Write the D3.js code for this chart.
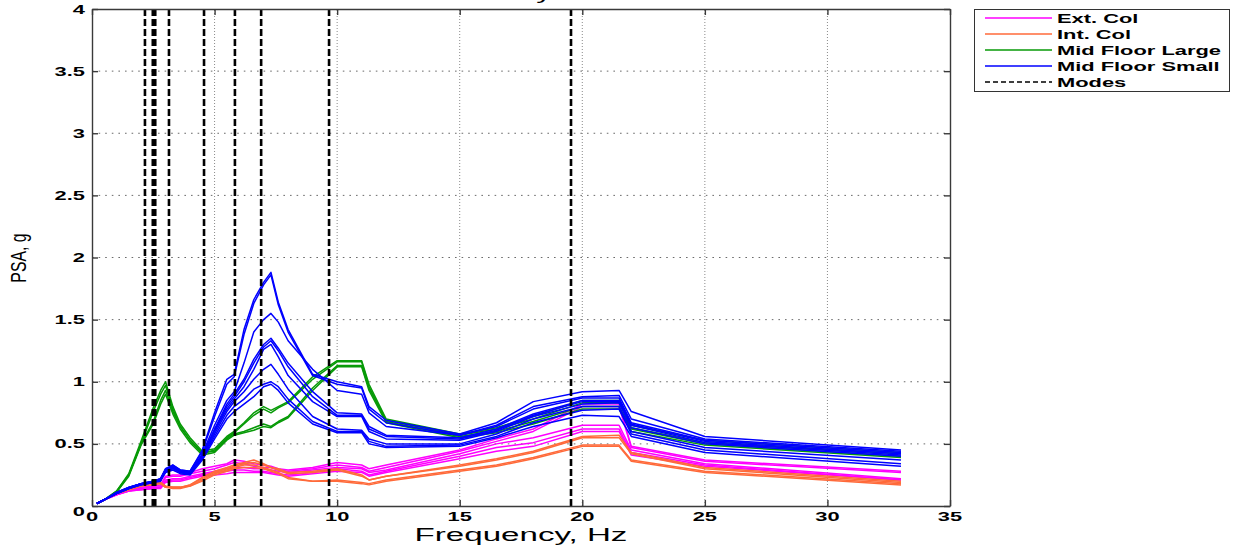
<!DOCTYPE html>
<html>
<head>
<meta charset="utf-8">
<script src="https://cdn.jsdelivr.net/npm/d3@7"></script>
<style>
  html, body { margin: 0; padding: 0; background: #fff; }
  svg { display: block; }
  text { font-family: "Liberation Sans", Arial, sans-serif; fill: #000; }
</style>
</head>
<body>
<svg id="chart" width="1241" height="550"></svg>
<script>
// Frequency grid (Hz) shared by every spectrum
const freq = [0.2, 0.5, 1.0, 1.5, 2.0, 2.5, 2.8, 3.0, 3.3, 3.6, 4.0, 4.5, 5.0, 5.5, 5.8, 6.2, 6.6, 7.0, 7.3, 7.6, 8.0, 9.0, 10.0, 11.0, 11.3, 12.0, 15.0, 16.5, 18.0, 20.0, 21.5, 22.0, 25.0, 33.0];

// Ext. Col spectra (PSA, g)
const extCol = [
  [0.02,0.05,0.10,0.13,0.15,0.16,0.17,0.24,0.25,0.25,0.27,0.30,0.32,0.34,0.37,0.36,0.34,0.33,0.32,0.30,0.29,0.31,0.35,0.33,0.30,0.33,0.45,0.54,0.62,0.82,0.82,0.48,0.37,0.28],
  [0.02,0.05,0.10,0.13,0.14,0.16,0.16,0.23,0.24,0.24,0.26,0.28,0.30,0.33,0.35,0.34,0.32,0.31,0.31,0.29,0.28,0.30,0.33,0.31,0.28,0.31,0.44,0.52,0.60,0.80,0.80,0.47,0.36,0.27],
  [0.02,0.05,0.09,0.12,0.14,0.15,0.15,0.21,0.22,0.22,0.24,0.26,0.28,0.30,0.31,0.31,0.30,0.30,0.29,0.28,0.27,0.29,0.31,0.30,0.27,0.29,0.42,0.50,0.55,0.65,0.65,0.45,0.34,0.22],
  [0.02,0.05,0.09,0.12,0.13,0.14,0.15,0.20,0.21,0.21,0.23,0.25,0.27,0.28,0.29,0.29,0.28,0.28,0.27,0.26,0.25,0.27,0.30,0.28,0.25,0.28,0.40,0.47,0.51,0.62,0.62,0.43,0.33,0.21],
  [0.02,0.05,0.09,0.12,0.13,0.14,0.14,0.19,0.20,0.20,0.22,0.24,0.25,0.26,0.27,0.27,0.27,0.27,0.26,0.25,0.24,0.26,0.28,0.27,0.24,0.27,0.38,0.44,0.48,0.60,0.60,0.41,0.32,0.21]
];

// Int. Col spectra (PSA, g)
const intCol = [
  [0.02,0.05,0.10,0.14,0.17,0.19,0.19,0.16,0.15,0.15,0.17,0.23,0.28,0.31,0.33,0.35,0.37,0.34,0.31,0.30,0.27,0.28,0.30,0.25,0.21,0.24,0.33,0.38,0.44,0.56,0.57,0.43,0.31,0.20],
  [0.02,0.05,0.10,0.14,0.17,0.18,0.19,0.16,0.15,0.15,0.17,0.22,0.27,0.30,0.32,0.34,0.35,0.33,0.31,0.29,0.26,0.27,0.29,0.24,0.21,0.24,0.32,0.37,0.43,0.55,0.55,0.42,0.30,0.19],
  [0.02,0.05,0.10,0.13,0.16,0.18,0.18,0.15,0.15,0.15,0.16,0.21,0.26,0.29,0.31,0.33,0.33,0.31,0.29,0.27,0.23,0.20,0.21,0.19,0.18,0.21,0.29,0.33,0.39,0.49,0.49,0.37,0.28,0.18],
  [0.02,0.05,0.10,0.13,0.16,0.17,0.18,0.15,0.14,0.14,0.16,0.20,0.25,0.28,0.30,0.31,0.31,0.30,0.28,0.26,0.22,0.20,0.20,0.18,0.17,0.20,0.28,0.32,0.38,0.48,0.48,0.36,0.27,0.17]
];

// Mid Floor Large spectra (PSA, g)
const midFloorLarge = [
  [0.02,0.05,0.12,0.26,0.52,0.79,0.93,1.00,0.80,0.66,0.55,0.44,0.46,0.56,0.60,0.67,0.75,0.80,0.77,0.80,0.84,1.04,1.17,1.17,0.98,0.70,0.58,0.63,0.72,0.85,0.85,0.65,0.53,0.43],
  [0.02,0.05,0.12,0.25,0.50,0.76,0.90,0.97,0.78,0.64,0.53,0.42,0.45,0.55,0.59,0.66,0.73,0.78,0.75,0.79,0.83,1.02,1.16,1.16,0.96,0.69,0.57,0.62,0.70,0.83,0.83,0.63,0.51,0.42],
  [0.02,0.05,0.11,0.25,0.50,0.68,0.85,0.93,0.76,0.64,0.53,0.43,0.44,0.54,0.58,0.60,0.63,0.66,0.64,0.68,0.72,0.95,1.13,1.13,0.95,0.68,0.56,0.60,0.68,0.80,0.80,0.62,0.50,0.40],
  [0.02,0.05,0.11,0.24,0.49,0.66,0.82,0.90,0.74,0.62,0.51,0.41,0.43,0.53,0.57,0.59,0.61,0.64,0.63,0.67,0.71,0.93,1.12,1.12,0.93,0.67,0.55,0.59,0.66,0.78,0.78,0.60,0.49,0.39]
];

// Mid Floor Small spectra (PSA, g)
const midFloorSmall = [
  [0.02,0.05,0.11,0.15,0.18,0.20,0.22,0.30,0.33,0.29,0.28,0.45,0.75,1.02,1.06,1.42,1.66,1.80,1.88,1.64,1.42,1.06,1.00,0.96,0.80,0.69,0.58,0.67,0.84,0.92,0.93,0.76,0.56,0.45],
  [0.02,0.05,0.11,0.15,0.18,0.20,0.22,0.29,0.33,0.29,0.28,0.44,0.72,0.98,1.04,1.38,1.63,1.78,1.86,1.62,1.40,1.05,0.98,0.95,0.78,0.67,0.57,0.65,0.80,0.88,0.89,0.70,0.54,0.44],
  [0.02,0.05,0.10,0.15,0.18,0.19,0.21,0.29,0.32,0.28,0.27,0.42,0.65,0.85,0.92,1.15,1.40,1.50,1.55,1.48,1.33,1.10,0.93,0.90,0.75,0.64,0.57,0.64,0.78,0.87,0.87,0.67,0.53,0.43],
  [0.02,0.05,0.10,0.14,0.17,0.19,0.21,0.28,0.31,0.27,0.26,0.41,0.62,0.82,0.90,1.02,1.18,1.30,1.35,1.27,1.15,0.92,0.75,0.74,0.64,0.57,0.55,0.62,0.74,0.85,0.85,0.66,0.52,0.42],
  [0.02,0.05,0.10,0.14,0.18,0.19,0.21,0.28,0.31,0.27,0.26,0.40,0.61,0.80,0.88,1.00,1.15,1.28,1.33,1.25,1.12,0.88,0.73,0.73,0.62,0.56,0.54,0.61,0.73,0.84,0.84,0.65,0.51,0.41],
  [0.02,0.05,0.11,0.15,0.18,0.20,0.22,0.30,0.32,0.28,0.27,0.40,0.60,0.78,0.86,0.96,1.10,1.26,1.30,1.20,1.05,0.84,0.72,0.72,0.60,0.54,0.53,0.60,0.72,0.82,0.83,0.63,0.50,0.40],
  [0.02,0.05,0.10,0.14,0.17,0.19,0.21,0.27,0.30,0.27,0.26,0.39,0.58,0.76,0.84,0.92,1.02,1.10,1.14,1.06,0.94,0.72,0.62,0.61,0.54,0.50,0.50,0.58,0.70,0.80,0.80,0.60,0.47,0.37],
  [0.02,0.05,0.10,0.14,0.18,0.20,0.21,0.29,0.31,0.28,0.27,0.38,0.56,0.73,0.80,0.86,0.94,0.98,1.00,0.96,0.86,0.68,0.60,0.60,0.52,0.48,0.49,0.56,0.67,0.77,0.78,0.58,0.45,0.34],
  [0.02,0.05,0.10,0.14,0.17,0.19,0.20,0.27,0.29,0.26,0.25,0.37,0.54,0.70,0.76,0.82,0.88,0.96,0.98,0.93,0.83,0.66,0.59,0.59,0.50,0.47,0.48,0.55,0.64,0.73,0.72,0.56,0.43,0.32]
];

// Modal frequencies (Hz)
const modes = [2.16, 2.48, 2.58, 3.14, 4.57, 5.83, 6.9, 9.67, 19.54];

// Axis ticks
const xTicks = [0, 5, 10, 15, 20, 25, 30, 35];
const yTicks = [0, 0.5, 1, 1.5, 2, 2.5, 3, 3.5, 4];

const groups = [
  { name: "Ext. Col", color: "#ff00ff", data: extCol },
  { name: "Int. Col", color: "#ff6a3a", data: intCol },
  { name: "Mid Floor Large", color: "#079a07", data: midFloorLarge },
  { name: "Mid Floor Small", color: "#0000ff", data: midFloorSmall }
];

const svg = d3.select("#chart");
const SX = 1.75; // horizontal stretch of the exported figure text

const x = d3.scaleLinear().domain([0, 35]).range([92, 950]);
const y = d3.scaleLinear().domain([0, 4]).range([506, 9]);

// clip to plot area
svg.append("defs").append("clipPath").attr("id", "plotClip")
  .append("rect").attr("x", 92).attr("y", 9).attr("width", 858).attr("height", 497);

// grid
const grid = svg.append("g");
grid.selectAll("line.hg").data(yTicks.slice(1, -1)).join("line")
  .attr("x1", x(0)).attr("x2", x(35))
  .attr("y1", d => y(d)).attr("y2", d => y(d))
  .attr("stroke", "#6a6a6a").attr("stroke-width", 1)
  .attr("stroke-dasharray", "1.6,5");
grid.selectAll("line.vg").data(xTicks.slice(1, -1)).join("line")
  .attr("x1", d => x(d)).attr("x2", d => x(d))
  .attr("y1", y(0)).attr("y2", y(4))
  .attr("stroke", "#8a8a8a").attr("stroke-width", 1)
  .attr("stroke-dasharray", "1,2");

// spectra
const line = d3.line().x((d, i) => x(freq[i])).y(d => y(d));
const plot = svg.append("g").attr("clip-path", "url(#plotClip)");
groups.forEach(g => {
  plot.append("g").selectAll("path").data(g.data).join("path")
    .attr("d", line)
    .attr("fill", "none")
    .attr("stroke", g.color)
    .attr("stroke-width", 1.5)
    .attr("stroke-linejoin", "round");
});

// modes
plot.append("g").selectAll("line").data(modes).join("line")
  .attr("x1", d => x(d)).attr("x2", d => x(d))
  .attr("y1", y(0)).attr("y2", y(4))
  .attr("stroke", "#000").attr("stroke-width", 2.6)
  .attr("stroke-dasharray", "7,3");

// axes frame with inward ticks on all sides
const axisColor = "#3a3a3a";
const xAxisB = d3.axisBottom(x).tickValues(xTicks).tickSizeInner(-6).tickSizeOuter(0).tickFormat("");
const xAxisT = d3.axisTop(x).tickValues(xTicks).tickSizeInner(-6).tickSizeOuter(0).tickFormat("");
const yAxisL = d3.axisLeft(y).tickValues(yTicks).tickSizeInner(-6).tickSizeOuter(0).tickFormat("");
const yAxisR = d3.axisRight(y).tickValues(yTicks).tickSizeInner(-6).tickSizeOuter(0).tickFormat("");
[[xAxisB, `translate(0,${y(0)})`], [xAxisT, `translate(0,${y(4)})`],
 [yAxisL, `translate(${x(0)},0)`], [yAxisR, `translate(${x(35)},0)`]].forEach(([ax, tr]) => {
  const g = svg.append("g").attr("transform", tr).call(ax);
  g.selectAll("path, line").attr("stroke", axisColor).attr("stroke-width", 1.4);
});

// text helper: the exported figure stretches glyphs horizontally
function stretchedText(parent, px, py, str, opts) {
  return parent.append("text")
    .attr("transform", `translate(${px},${py}) scale(${opts.sx || SX},1)` + (opts.rot ? ` rotate(${opts.rot})` : "") + (opts.inner ? ` ${opts.inner}` : ""))
    .attr("text-anchor", opts.anchor || "middle")
    .style("font-size", (opts.size || 12.5) + "px")
    .style("font-weight", opts.weight || "normal")
    .text(str);
}
const labels = svg.append("g");
yTicks.forEach(v => {
  stretchedText(labels, 85, y(v) + 4.5 + (v === 0 ? 5 : 0), d3.format("~g")(v), { anchor: "end", weight: "bold" });
});
xTicks.forEach(v => {
  stretchedText(labels, x(v), 521, String(v), { anchor: "middle", weight: "bold" });
});

// axis titles
stretchedText(labels, 521, 541, "Frequency, Hz", { size: 18.6, sx: 1.78 });
stretchedText(labels, 26, 258, "PSA, g", { size: 22, sx: 1, rot: -90, inner: "scale(0.72,1)" });
stretchedText(labels, 552, -1, "Floor Time History", { size: 18, anchor: "end" });

// legend
const lg = svg.append("g");
lg.append("rect").attr("x", 974.5).attr("y", 9.5).attr("width", 255).attr("height", 82)
  .attr("fill", "#fff").attr("stroke", "#333").attr("stroke-width", 1);
const legendItems = groups.map(g => ({ name: g.name, color: g.color, dash: null }))
  .concat([{ name: "Modes", color: "#000", dash: "5,3" }]);
legendItems.forEach((it, i) => {
  const cy = 18 + i * 16;
  lg.append("line").attr("x1", 985).attr("x2", 1052).attr("y1", cy).attr("y2", cy)
    .attr("stroke", it.color).attr("stroke-width", it.dash ? 1.3 : 1.4)
    .attr("stroke-dasharray", it.dash);
  stretchedText(lg, 1057, cy + 4.5, it.name, { anchor: "start", weight: "bold" });
});
</script>
</body>
</html>
